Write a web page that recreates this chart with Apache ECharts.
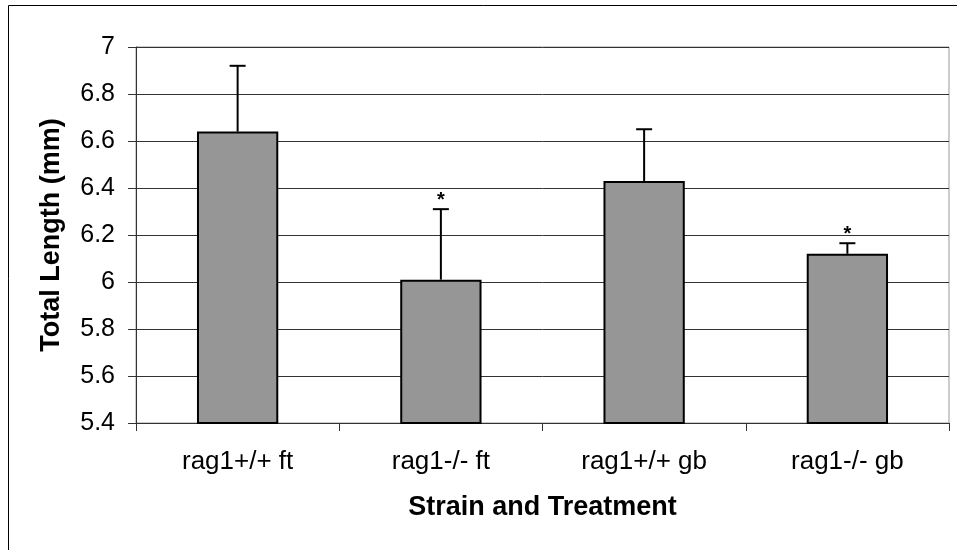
<!DOCTYPE html>
<html>
<head>
<meta charset="utf-8">
<script src="https://cdn.jsdelivr.net/npm/echarts@6/dist/echarts.min.js"></script>
<style>
  html, body { margin: 0; padding: 0; background: #fff; }
  #chart { width: 957px; height: 550px; }
</style>
</head>
<body>
<div id="chart"></div>
<script>
  // data
  var categories = ['rag1+/+ ft', 'rag1-/- ft', 'rag1+/+ gb', 'rag1-/- gb']
  var means = [6.64, 6.01, 6.43, 6.12]
  var errors = [0.28, 0.30, 0.22, 0.045]
  var marks = ['', '*', '', '*']
  var yTicks = [5.4, 5.6, 5.8, 6, 6.2, 6.4, 6.6, 6.8, 7]

  var font = 'Liberation Sans, Arial, sans-serif'

  var errData = means.map(function (m, i) {
    return [i, m, m + errors[i], marks[i]]
  })

  var myChart = echarts.init(document.getElementById('chart'))
  myChart.setOption({
    animation: false,
    backgroundColor: '#fff',
    graphic: [{
      type: 'rect',
      shape: { x: 8.5, y: 5.5, width: 1000, height: 600 },
      style: { fill: 'none', stroke: '#000', lineWidth: 1 },
      silent: true
    }],
    grid: {
      left: 136,
      right: 8,
      top: 47,
      bottom: 127,
      show: true,
      borderColor: '#999',
      borderWidth: 1
    },
    xAxis: {
      type: 'category',
      data: categories,
      name: 'Strain and Treatment',
      nameLocation: 'middle',
      nameGap: 71,
      nameTextStyle: { fontFamily: font, fontSize: 27, fontWeight: 'bold', color: '#000' },
      axisLine: { lineStyle: { color: '#333', width: 1 } },
      axisTick: { show: true, length: 8, lineStyle: { color: '#333' } },
      axisLabel: { fontFamily: font, fontSize: 26, color: '#000', margin: 26 },
      splitLine: { show: false }
    },
    yAxis: {
      type: 'value',
      min: yTicks[0],
      max: yTicks[yTicks.length - 1],
      interval: 0.2,
      name: 'Total Length (mm)',
      nameLocation: 'middle',
      nameGap: 71,
      nameTextStyle: { fontFamily: font, fontSize: 27, fontWeight: 'bold', color: '#000' },
      axisLine: { show: true, lineStyle: { color: '#333', width: 1 } },
      axisTick: { show: true, length: 8, lineStyle: { color: '#333' } },
      axisLabel: {
        fontFamily: font, fontSize: 25, color: '#000', margin: 21,
        formatter: function (v) { return String(Math.round(v * 10) / 10) }
      },
      splitLine: { show: true, lineStyle: { color: '#333', width: 1 } }
    },
    series: [
      {
        type: 'bar',
        data: means,
        barWidth: '40%',
        itemStyle: { color: '#969696', borderColor: '#000', borderWidth: 2 }
      },
      {
        type: 'custom',
        data: errData,
        z: 5,
        renderItem: function (params, api) {
          var base = api.coord([api.value(0), api.value(1)])
          var top = api.coord([api.value(0), api.value(2)])
          var capHalf = 8
          var children = [
            {
              type: 'line',
              shape: { x1: base[0], y1: base[1], x2: top[0], y2: top[1] },
              style: { stroke: '#000', lineWidth: 2 }
            },
            {
              type: 'line',
              shape: { x1: top[0] - capHalf, y1: top[1], x2: top[0] + capHalf, y2: top[1] },
              style: { stroke: '#000', lineWidth: 2 }
            }
          ]
          var mark = marks[params.dataIndex]
          if (mark) {
            children.push({
              type: 'text',
              style: {
                x: top[0], y: top[1] + 1,
                text: mark,
                fontFamily: font, fontSize: 20, fontWeight: 'bold', fill: '#000',
                align: 'center', verticalAlign: 'bottom'
              }
            })
          }
          return { type: 'group', children: children }
        }
      }
    ]
  })
</script>
</body>
</html>
